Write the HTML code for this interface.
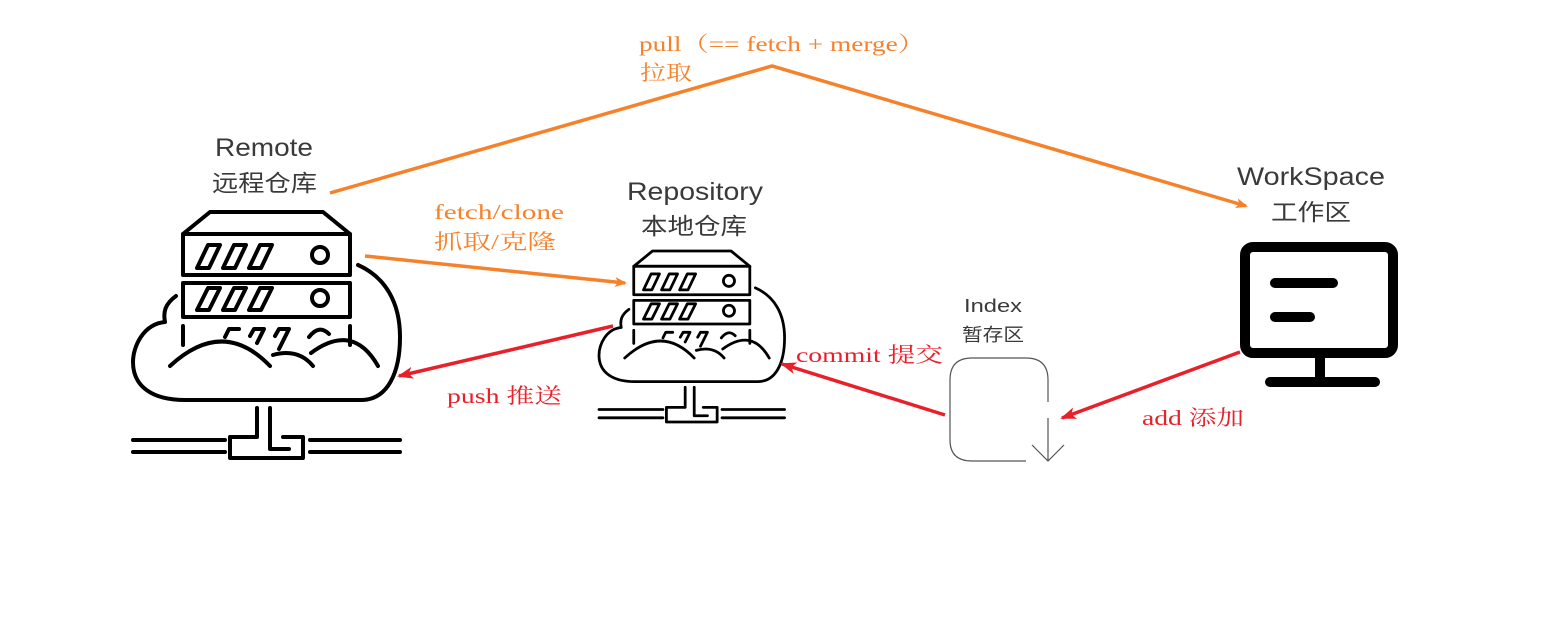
<!DOCTYPE html>
<html><head><meta charset="utf-8"><style>
html,body{margin:0;padding:0;background:#fff;}
svg{display:block;}
.ser{font-family:"Liberation Serif","Noto Serif CJK SC",serif;}
.san{font-family:"Liberation Sans","Noto Sans CJK SC",sans-serif;fill:#3a3a3a;}
</style></head><body>
<svg width="1553" height="634" viewBox="0 0 1553 634" xmlns="http://www.w3.org/2000/svg">
<defs>
<g id="srv" fill="none" stroke="#000" stroke-width="4" stroke-linejoin="round" stroke-linecap="round">
  <path d="M50,22 L77,0 L190,0 L217,22 Z"/>
  <rect x="50" y="22" width="167" height="41"/>
  <rect x="50" y="71" width="167" height="34"/>
  <path d="M64,56 L75,33 L87,33 L76,56 Z M90,56 L101,33 L113,33 L102,56 Z M116,56 L127,33 L139,33 L128,56 Z"/>
  <path d="M64,98 L75,76 L87,76 L76,98 Z M90,98 L101,76 L113,76 L102,98 Z M116,98 L127,76 L139,76 L128,98 Z"/>
  <circle cx="187" cy="43" r="8"/>
  <circle cx="187" cy="86" r="8"/>
  <path d="M50,114 V133 M217,114 V133"/>
  <path d="M92,125 L96,117 L106,117 M117,124 L121,117 L131,117 L124,131 M142,124 L146,117 L156,117 L146,137 M176,125 Q186,112 196,122"/>
  <path d="M43,84 C32,92 30,100 32,110 C10,112 0,135 0,150 C0,175 20,188 52,188 L228,188 C255,188 267,160 267,125 C267,90 252,65 225,53"/>
  <path d="M37,154 Q90,105 137,154"/>
  <path d="M140,143 Q165,136 180,154"/>
  <path d="M178,141 Q220,110 245,154"/>
  <path d="M124,196 V225 H97 V246 H170 V225 H150 M137,196 V237 H156"/>
  <path d="M0,228 H92 M0,240 H92 M177,228 H267 M177,240 H267"/>
</g>
<marker id="ao" markerWidth="12" markerHeight="10" refX="10" refY="5" orient="auto" markerUnits="userSpaceOnUse"><path d="M0,0 L12,5 L0,10 L3,5 Z" fill="#f5822a"/></marker>
<marker id="ar" markerWidth="16" markerHeight="12" refX="14" refY="6" orient="auto" markerUnits="userSpaceOnUse"><path d="M0,0 L16,6 L0,12 L4,6 Z" fill="#e8202a"/></marker>
</defs>

<use href="#srv" transform="translate(133,212)"/>
<use href="#srv" transform="translate(599,251) scale(0.695)"/>

<g fill="none" stroke="#000" stroke-width="10" stroke-linecap="round" stroke-linejoin="round">
  <rect x="1245" y="247" width="148" height="106" rx="8"/>
  <path d="M1275,283 H1333 M1275,317 H1310 M1320,356 V382 M1270,382 H1375"/>
</g>

<g fill="none" stroke="#555" stroke-width="1.2">
  <path d="M1048,402 V380 Q1048,358 1026,358 H972 Q950,358 950,380 V440 Q950,461 972,461 H1026"/>
  <path d="M1048,418 V461 M1032,445 L1048,461 L1064,445"/>
</g>

<g fill="none" stroke-width="3.5">
  <path d="M330,193 L772,66 L1246,206" stroke="#f5822a" marker-end="url(#ao)"/>
  <path d="M365,256 L625,283" stroke="#f5822a" marker-end="url(#ao)"/>
  <path d="M613,326 L399,376" stroke="#e8202a" marker-end="url(#ar)"/>
  <path d="M945,415 L782,364" stroke="#e8202a" marker-end="url(#ar)"/>
  <path d="M1240,352 L1062,418" stroke="#e8202a" marker-end="url(#ar)"/>
</g>

<g class="san">
  <text x="215" y="156" font-size="25" textLength="98" lengthAdjust="spacingAndGlyphs">Remote</text>
  <text x="212" y="191" font-size="23" textLength="105" lengthAdjust="spacingAndGlyphs">远程仓库</text>
  <text x="627" y="200" font-size="25" textLength="136" lengthAdjust="spacingAndGlyphs">Repository</text>
  <text x="641" y="234" font-size="23" textLength="106" lengthAdjust="spacingAndGlyphs">本地仓库</text>
  <text x="1237" y="185" font-size="25" textLength="148" lengthAdjust="spacingAndGlyphs">WorkSpace</text>
  <text x="1271" y="220" font-size="23" textLength="80" lengthAdjust="spacingAndGlyphs">工作区</text>
  <text x="964" y="312" font-size="18" textLength="58" lengthAdjust="spacingAndGlyphs">Index</text>
  <text x="962" y="341" font-size="18" textLength="62" lengthAdjust="spacingAndGlyphs">暂存区</text>
</g>
<g class="ser" font-size="21">
  <text x="639" y="51" fill="#f5822a" textLength="286" lengthAdjust="spacingAndGlyphs">pull（== fetch + merge）</text>
  <text x="640" y="80" fill="#f5822a" textLength="52" lengthAdjust="spacingAndGlyphs">拉取</text>
  <text x="434" y="219" fill="#f5822a" textLength="130" lengthAdjust="spacingAndGlyphs">fetch/clone</text>
  <text x="434" y="249" fill="#f5822a" textLength="122" lengthAdjust="spacingAndGlyphs">抓取/克隆</text>
  <text x="447" y="403" fill="#e8202a" textLength="115" lengthAdjust="spacingAndGlyphs">push 推送</text>
  <text x="796" y="362" fill="#e8202a" textLength="147" lengthAdjust="spacingAndGlyphs">commit 提交</text>
  <text x="1142" y="425" fill="#e8202a" textLength="102" lengthAdjust="spacingAndGlyphs">add 添加</text>
</g>
</svg>
</body></html>
